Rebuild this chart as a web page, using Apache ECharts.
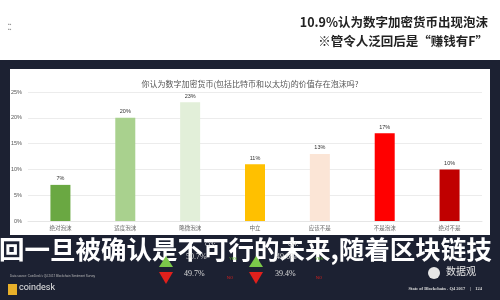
<!DOCTYPE html>
<html><head><meta charset="utf-8">
<script src="https://cdn.jsdelivr.net/npm/echarts@6/dist/echarts.min.js"></script>
<style>html,body{margin:0;padding:0;background:#1c2132;}#c{width:500px;height:300px;}</style>
</head><body><div id="c"></div>
<script>
const categories = ['绝对泡沫','适度泡沫','略微泡沫','中立','应该不是','不是泡沫','绝对不是'];
const values = [7, 20, 23, 11, 13, 17, 10];
const barColors = ['#6aa842','#a9d18e','#e2efd9','#ffc000','#fbe5d6','#ff0000','#c00000'];
const yTicks = [0, 5, 10, 15, 20, 25];

const chart = echarts.init(document.getElementById('c'), null, {renderer:'canvas'});
const cjk = '"Noto Sans CJK SC", sans-serif';
chart.setOption({
  backgroundColor: '#1c2132',
  animation: false,
  title: {
    text: '你认为数字加密货币(包括比特币和以太坊)的价值存在泡沫吗?',
    left: 'center', top: 75,
    textStyle: {fontSize: 8, fontWeight: 'normal', color: '#555', fontFamily: cjk}
  },
  grid: {left: 28, right: 18, top: 92, bottom: 79},
  xAxis: {
    type: 'category', data: categories,
    axisLine: {show: true, lineStyle: {color: '#e6e6e6'}},
    axisTick: {show: false},
    axisLabel: {fontSize: 5.5, color: '#666', margin: 4, fontFamily: cjk}
  },
  yAxis: {
    type: 'value', min: yTicks[0], max: yTicks[yTicks.length - 1], interval: 5,
    axisLabel: {formatter: '{value}%', fontSize: 5.5, color: '#555', margin: 6},
    splitLine: {lineStyle: {color: '#ececec'}},
    axisLine: {show: false}, axisTick: {show: false}
  },
  series: [{
    type: 'bar', barWidth: 20,
    data: values.map((v, i) => ({value: v, itemStyle: {color: barColors[i]}})),
    label: {show: true, position: 'top', formatter: '{c}%', fontSize: 5.5, color: '#333', distance: 3}
  }],
  graphic: [
    {type: 'rect', z: -10, shape: {x: 0, y: 0, width: 500, height: 60}, style: {fill: '#ffffff'}},
    {type: 'rect', z: -10, shape: {x: 10, y: 69, width: 480, height: 166}, style: {fill: '#ffffff'}},
    {type: 'text', left: 8, top: 22, style: {text: '▪▪\n▪▪', fontSize: 5, fill: '#999', lineHeight: 5}},
    {type: 'text', right: 12, top: 16, style: {text: '10.9%认为数字加密货币出现泡沫', fontSize: 12.5, fontWeight: 'bold', fill: '#222', fontFamily: cjk}},
    {type: 'text', right: 12, top: 35, style: {text: '※管令人泛回后是“赚钱有F”', fontSize: 12.5, fontWeight: 'bold', fill: '#222', fontFamily: cjk}},
    {type: 'text', left: -1, top: 237, style: {text: '回一旦被确认是不可行的未来,随着区块链技', fontSize: 25.5, fontWeight: 'bold', fill: '#ffffff', fontFamily: cjk}},
    {type: 'text', left: 205, top: 241, style: {text: 'Q3:', fontSize: 7, fill: '#ddd', fontFamily: 'Liberation Serif'}},
    {type: 'text', left: 186, top: 253, style: {text: '50.7%', fontSize: 8, fill: '#ddd', fontFamily: 'Liberation Serif'}},
    {type: 'text', left: 184, top: 270, style: {text: '49.7%', fontSize: 8, fill: '#ddd', fontFamily: 'Liberation Serif'}},
    {type: 'text', left: 288, top: 241, style: {text: 'Q4:', fontSize: 7, fill: '#ddd', fontFamily: 'Liberation Serif'}},
    {type: 'text', left: 276, top: 253, style: {text: '49.6%', fontSize: 8, fill: '#ddd', fontFamily: 'Liberation Serif'}},
    {type: 'text', left: 275, top: 270, style: {text: '39.4%', fontSize: 8, fill: '#ddd', fontFamily: 'Liberation Serif'}},
    {type: 'polygon', shape: {points: [[166, 256], [159, 267], [173, 267]]}, style: {fill: '#7cc84a'}},
    {type: 'polygon', shape: {points: [[159, 272], [173, 272], [166, 284]]}, style: {fill: '#e0201c'}},
    {type: 'polygon', shape: {points: [[256, 256], [249, 267], [263, 267]]}, style: {fill: '#7cc84a'}},
    {type: 'polygon', shape: {points: [[249, 272], [263, 272], [256, 284]]}, style: {fill: '#e0201c'}},
    {type: 'text', left: 229, top: 257, style: {text: 'YES', fontSize: 4, fill: '#5fb030'}},
    {type: 'text', left: 227, top: 276, style: {text: 'NO', fontSize: 4, fill: '#e0201c'}},
    {type: 'text', left: 315, top: 257, style: {text: 'YES', fontSize: 4, fill: '#5fb030'}},
    {type: 'text', left: 316, top: 276, style: {text: 'NO', fontSize: 4, fill: '#e0201c'}},
    {type: 'text', left: 10, top: 275, style: {text: "Data source: CoinDesk's Q4 2017 Blockchain Sentiment Survey", fontSize: 3, fill: '#bbb'}},
    {type: 'rect', shape: {x: 8, y: 284, width: 9, height: 11}, style: {fill: '#e8b02a'}},
    {type: 'text', left: 19, top: 283, style: {text: 'coindesk', fontSize: 9, fill: '#e6e6e6', fontFamily: 'Roboto'}},
    {type: 'circle', shape: {cx: 434, cy: 273, r: 6}, style: {fill: '#e6e6e6'}},
    {type: 'text', left: 446, top: 266, style: {text: '数据观', fontSize: 10, fill: '#e6e6e6', fontFamily: cjk}},
    {type: 'text', right: 18, top: 286, style: {text: 'State of Blockchain - Q4 2017    |    124', fontSize: 4.5, fontWeight: 'bold', fill: '#ddd', fontFamily: 'Liberation Serif'}}
  ]
});
</script></body></html>
